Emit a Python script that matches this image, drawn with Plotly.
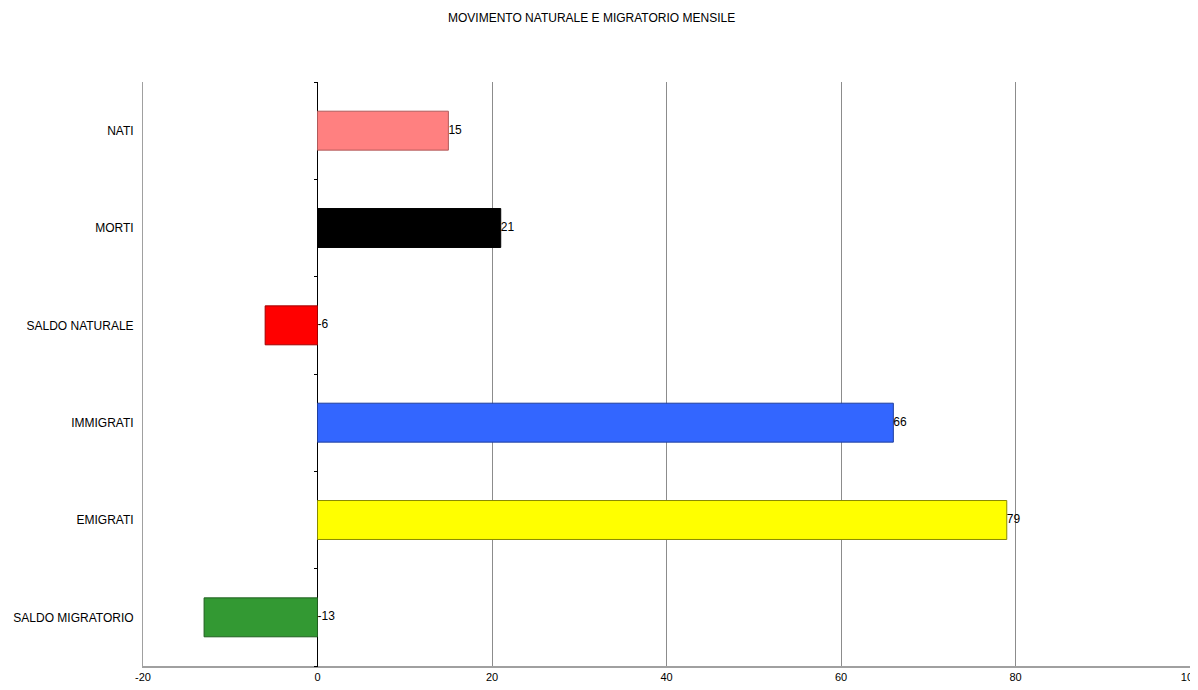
import plotly.graph_objects as go

categories = ["NATI", "MORTI", "SALDO NATURALE", "IMMIGRATI", "EMIGRATI", "SALDO MIGRATORIO"]
values = [15, 21, -6, 66, 79, -13]
colors = ["#FF8080", "#000000", "#FF0000", "#3366FF", "#FFFF00", "#339933"]
line_colors = ["#B05A5A", "#000000", "#A00000", "#1F3F9F", "#8A8A00", "#1F5F1F"]
x_ticks = [-20, 0, 20, 40, 60, 80, 100]
title_text = "MOVIMENTO NATURALE E MIGRATORIO MENSILE"

FONT = "Liberation Sans Narrow, Liberation Sans, Arial Narrow, sans-serif"

W, H = 1190, 682
ML, MR, MT, MB = 135, 8, 74, 24

fig = go.Figure()
fig.add_trace(go.Bar(
    y=categories, x=values, orientation="h",
    marker=dict(color=colors, line=dict(color=line_colors, width=1)),
    width=0.4, showlegend=False, hoverinfo="x+y",
))
fig.add_trace(go.Scatter(
    y=categories, x=[max(v, 0) for v in values],
    mode="text", text=[str(v) for v in values],
    textposition="middle right",
    textfont=dict(family=FONT, size=12, color="#000000"),
    showlegend=False, hoverinfo="skip",
))
# auxiliary axis for tick marks at category boundaries along zero line
fig.add_trace(go.Scatter(y=categories, x=[None]*len(categories), yaxis="y2",
                         mode="markers", showlegend=False, hoverinfo="skip"))

fig.update_layout(
    width=W, height=H,
    paper_bgcolor="white", plot_bgcolor="white",
    margin=dict(l=ML, r=MR, t=MT, b=MB, autoexpand=False),
    font=dict(family=FONT, size=12, color="#000000"),
    xaxis=dict(
        range=[-20, 100], tickvals=x_ticks, ticktext=[str(t) for t in x_ticks],
        showgrid=True, gridcolor="#8C8C8C", gridwidth=1,
        zeroline=True, zerolinecolor="#000000", zerolinewidth=1,
        showline=True, linecolor="#A0A0A0", linewidth=2, mirror=False,
        ticks="", tickfont=dict(family=FONT, size=11, color="#000000"),
        ticklabeloverflow="allow",
        automargin=False, fixedrange=True,
    ),
    yaxis=dict(
        categoryorder="array", categoryarray=categories[::-1],
        autorange=False, range=[-0.5, 5.5],
        showgrid=False, zeroline=False, showline=True, linecolor="#A0A0A0", linewidth=1,
        ticks="", ticklabelstandoff=6, automargin=False,
        tickfont=dict(family=FONT, size=12, color="#000000"),
    ),
    yaxis2=dict(
        overlaying="y", anchor="free", position=20/120, side="left",
        categoryorder="array", categoryarray=categories[::-1],
        autorange=False, range=[-0.5, 5.5], automargin=False,
        showticklabels=False, showgrid=False, zeroline=False, showline=False,
        ticks="outside", ticklen=4, tickcolor="#000000", tickson="boundaries",
    ),
    annotations=[dict(
        text=title_text, x=510/W, xref="paper", yref="paper",
        y=1 + (MT-10)/(H-MT-MB), yanchor="middle",
        showarrow=False, font=dict(family=FONT, size=12, color="#000000"),
    )],
)
fig.write_html("out.html")
